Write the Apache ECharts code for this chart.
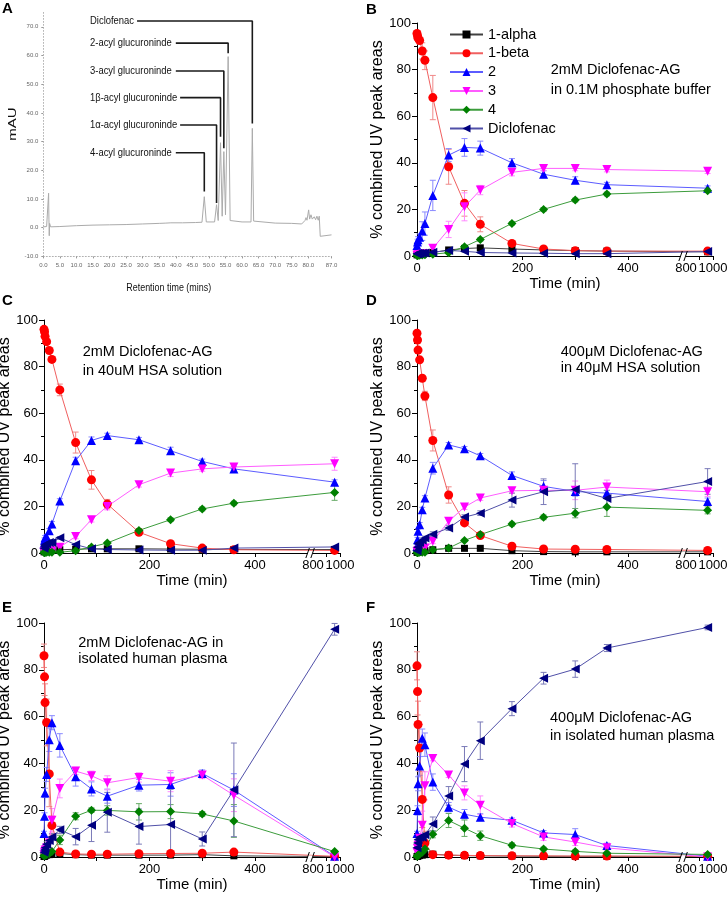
<!DOCTYPE html>
<html><head><meta charset="utf-8">
<script src="https://cdn.jsdelivr.net/npm/echarts@6.0.0/dist/echarts.min.js"></script>
<style>html,body{margin:0;padding:0;background:#fff;}#chart{width:728px;height:899px;}</style>
</head><body><div id="chart"></div>
<script>
const FONT = "'Liberation Sans', Arial, Helvetica, sans-serif";

// ---------- Panel A : chromatogram ----------
const chromTime = [0,1.0,1.5,1.6,1.7,1.8,1.9,2.2,5,10,15,20,25,30,35,37,37.5,38.5,42,46,47.9,48.6,49.2,51.7,52.3,52.8,53.5,54.0,54.5,55.0,55.8,56.4,60,62.7,63.1,63.5,64,70,75,78,78.5,79,79.3,79.6,80.1,80.4,80.8,81.2,81.8,82.2,82.6,83.0,83.3,83.6,84,87];
const chromMAU  = [0.3,0.4,0.4,12.0,3.0,-2.8,1.5,0.3,0.4,0.7,0.9,1.0,1.1,1.3,1.5,1.6,2.0,1.7,1.7,1.8,1.9,10.8,2.0,2.0,8.0,2.5,29.6,4.0,26.5,4.5,59.6,2.5,2.0,2.0,34.6,2.3,1.8,1.6,1.5,1.3,0.8,2.5,3.5,2.6,6.2,3.0,4.5,3.0,3.8,2.8,4.0,2.6,4.0,-3.0,-3.0,-2.5];
const peakNames = ['Diclofenac','2-acyl glucuroninde','3-acyl glucuroninde','1β-acyl glucuroninde','1α-acyl glucuroninde','4-acyl glucuroninde'];
const peakRT = [63.1,55.8,54.5,53.5,52.3,48.6];
const peakLineEnd = [36.3,60.8,27.7,31.7,8.6,12.6];
const peakLabelLevel = [72.0,64.3,54.6,45.3,35.8,26.1];
const peakLineStart = [28.3,40.0,40.0,41.3,41.3,40.0];
const chromXTicks = [0,5,10,15,20,25,30,35,40,45,50,55,60,65,70,75,80,87];
const chromYTicks = [-10,0,10,20,30,40,50,60,70];

// ---------- Panels B-F : time courses ----------
const TIMES = [0,1,2,5,10,15,30,60,90,120,180,240,300,360,960];
const SERIES_NAMES = ['1-alpha','1-beta','2','3','4','Diclofenac'];
const timeTickLabels = [0,200,400,800,1000];
const timeTicks = [0,100,200,300,400,900,1000];

// B: 2mM in phosphate buffer
const bAlpha = [0.5,0.6,0.8,1.0,1.1,1.2,1.5,2.6,3.2,3.5,3.0,2.6,2.3,2.1,1.8];
const bAlphaErr = [0.2,0.2,0.2,0.2,0.3,0.3,0.3,0.4,0.4,0.4,0.4,0.3,0.3,0.3,0.3];
const bBeta = [95.5,94.5,93.5,92.5,88,84,68,38.3,22.6,13.6,5.4,3,2.3,2.1,2.1];
const bBetaErr = [0.8,1,1.2,1.5,3.5,4,9.5,7.5,5.5,3.2,1,0.6,0.5,0.5,0.5];
const bTwo = [4.5,6,7,8,10.7,13.9,26,43.3,46.6,46.3,40,35.1,32.5,30.6,29.1];
const bTwoErr = [1,1.2,1.3,1.5,4,5,6.5,2.8,3.8,3,1.8,1.5,1.5,1,1];
const bThree = [0.3,0.4,0.5,0.6,0.8,1,3.3,11.4,21.1,28.3,35.9,37.6,37.6,37.1,36.4];
const bThreeErr = [0.2,0.2,0.2,0.3,0.3,0.4,1,3.5,6,2,1.5,1,1,1,1];
const bFour = [0.2,0.2,0.3,0.3,0.4,0.5,0.8,1.4,4,7.1,14,20,24,26.6,28];
const bFourErr = [0.1,0.1,0.1,0.1,0.2,0.2,0.3,0.5,0.7,0.7,0.7,0.8,0.8,0.8,0.8];
const bDic = [1,1,1.1,1.1,1.2,1.3,1.6,2.4,2,1.5,1.3,1.2,1,1,1.9];
const bDicErr = [0.3,0.3,0.3,0.3,0.3,0.3,0.3,0.3,0.3,0.3,0.3,0.3,0.3,0.3,0.3];

// C: 2mM in 40uM HSA
const cAlpha = [0.5,0.6,0.8,1,1.1,1.2,1.4,1.6,1.8,1.8,1.8,1.7,1.6,1.5,1.5];
const cAlphaErr = [0.2,0.2,0.2,0.2,0.2,0.2,0.3,0.3,0.3,0.3,0.3,0.3,0.3,0.3,0.3];
const cBeta = [96,95,93,90.7,86.9,83.1,70,47.4,31.4,21,8.9,4,2.1,1.4,1.1];
const cBetaErr = [0.8,1,1,1,1,1,2.5,4.5,4,2,1,0.6,0.5,0.4,0.4];
const cTwo = [4,5.5,6.5,7,9.5,12.5,22.3,39.6,48.3,50.4,48.6,43.9,39.3,36.1,30.4];
const cTwoErr = [1,1,1,1,1,1,1,1.5,1.5,1,1,1.5,1,1,1];
const cThree = [0.3,0.4,0.5,0.6,0.8,1,2.5,7.1,14.3,20,29.3,34.3,36.1,36.9,38.3];
const cThreeErr = [0.2,0.2,0.2,0.2,0.3,0.3,0.5,1,1,1.5,1,1.5,1,1,2.8];
const cFour = [0.2,0.2,0.2,0.3,0.3,0.3,0.3,1,2.6,4.3,9.7,14.3,18.9,21.4,26];
const cFourErr = [0.1,0.1,0.1,0.1,0.1,0.1,0.2,0.3,0.5,0.5,0.8,0.8,0.8,0.8,3.4];
const cDic = [2,3,3.5,4,4.5,4.5,6.5,3.6,1.8,1.5,1.3,1.2,1.2,2.1,2.6];
const cDicErr = [0.3,0.4,0.4,0.4,0.5,0.5,0.5,0.5,0.3,0.3,0.3,0.3,0.3,0.3,0.3];

// D: 400uM in 40uM HSA
const dAlpha = [0.3,0.4,0.5,0.6,0.8,1,1.4,2,2,2,1,0.6,0.5,0.5,0.5];
const dAlphaErr = [0.2,0.2,0.2,0.2,0.2,0.2,0.3,0.3,0.3,0.3,0.3,0.2,0.2,0.2,0.2];
const dBeta = [94.3,91.4,87.1,82.9,75,67.4,48.3,24.9,12.9,7.5,2.9,1.7,1.6,1.5,1.1];
const dBetaErr = [0.8,1,1,1,1.2,2,4.5,3.5,1,1,0.6,0.5,0.5,0.5,0.4];
const dTwo = [2.9,5.7,9.3,12.1,18.6,23.6,36.4,46.4,44.7,41.7,33.3,28.6,26.4,25.7,22.1];
const dTwoErr = [0.8,1,1,1,1,1,2.5,1,1,1,1.5,2.5,2,1.2,1.5];
const dThree = [0.5,0.8,1,1.2,1.5,2.1,5,13.6,19.7,23.6,26.7,26.9,26.9,28.3,26.3];
const dThreeErr = [0.3,0.3,0.3,0.3,0.4,0.5,1,1.5,1,1,1,1,4,3,2];
const dFour = [0.2,0.2,0.2,0.3,0.3,0.3,1.4,2.1,5.4,7.9,12.4,15.3,17.1,19.7,18.3];
const dFourErr = [0.1,0.1,0.1,0.1,0.1,0.1,0.3,0.5,0.5,0.8,0.8,1,2,4,1.5];
const dDic = [1,2.5,4,4.5,5.5,6.4,8.1,10.7,15.4,17.1,22.7,26.3,27.3,23.4,30.7];
const dDicErr = [0.3,0.5,0.5,0.5,0.8,0.8,1,1,1,1,3,5.5,11,3.5,5.5];

// E: 2mM in human plasma
const eAlpha = [0.2,0.3,0.5,0.8,1,1.2,1.5,1,0.8,0.8,0.8,0.8,1,0.5,0.2];
const eAlphaErr = [0.2,0.2,0.2,0.2,0.2,0.2,0.3,0.3,0.3,0.3,0.3,0.3,0.3,0.3,0.2];
const eBeta = [86,77,66,57.5,35.5,13.5,2.1,1.3,1.2,1.2,1.4,1.5,1.6,2.1,0.3];
const eBetaErr = [5,8,8,10,14,4,0.5,0.4,0.4,0.4,0.4,0.4,0.4,0.5,0.2];
const eTwo = [10,17.4,27.4,35.3,50.1,57.4,47.7,34.3,29.1,26,30.7,31,35.7,28.6,0.3];
const eTwoErr = [1,1.5,2,3,5,3,5,4,3,3,2.5,5,1.5,7,0.2];
const eThree = [1,2,3,4,6,15.7,29.3,36.7,34.7,31.7,34,32.4,35,26.4,0];
const eThreeErr = [0.5,0.8,1,1,2,5,4,1.5,2,3,2,4.5,1.5,7,0.2];
const eFour = [0.5,0.6,0.8,1,1.5,2.3,7.3,17.4,20,19.9,19.3,19.4,18.4,15.4,2.3];
const eFourErr = [0.2,0.2,0.3,0.3,0.5,0.5,2,1.5,1,2,3.5,3,1,7,0.5];
const eDic = [2,3,4,5.5,7,8.5,11.6,8.7,13.6,19.1,13,13.9,7.7,28.7,97.3];
const eDicErr = [0.5,0.8,1,1,1.5,1.5,1.5,3.5,7,8.5,7.5,15,3,20,2.5];

// F: 400uM in human plasma
const fAlpha = [0.2,0.3,0.4,0.6,0.8,1,1.2,0.8,0.6,0.5,0.4,0.3,0.3,0.3,0.2];
const fAlphaErr = [0.2,0.2,0.2,0.2,0.2,0.2,0.3,0.3,0.2,0.2,0.2,0.2,0.2,0.2,0.2];
const fBeta = [81.7,70.7,56.6,46.6,24.6,6,1,0.8,0.7,0.6,0.5,0.5,0.4,0.4,0.3];
const fBetaErr = [6,10,10,10,12,5,0.4,0.3,0.3,0.3,0.3,0.3,0.3,0.3,0.2];
const fTwo = [10,19.9,31.3,38.9,50.7,48,32,21.3,18.3,17,15.7,10.3,9.6,4.9,0.3];
const fTwoErr = [1,2,3,4,4,5,3.5,2,2,1.5,1,1,2.5,1,0.2];
const fThree = [2,3.6,5,8,13.6,30.4,42.1,35,27.4,22.1,14.3,8.6,6.4,3.9,0];
const fThreeErr = [1,1,1.5,2,6,6,1,1,3,4,1.5,1.5,1.5,1,0.2];
const fFour = [0.3,0.5,0.8,1.3,2,3.4,9.7,15.6,12.3,9.1,5,3.4,2.4,1.6,1.1];
const fFourErr = [0.2,0.2,0.3,0.3,0.5,1,1.5,3,3.5,2,1,0.8,0.6,0.5,0.5];
const fDic = [4,6,7.5,8.4,8.4,9.5,14.1,26.1,39.7,49.7,63.4,76.4,80.3,89.3,98.1];
const fDicErr = [0.5,1,1,1,1,1,3,4,7.5,8,3,2.5,3.5,1.5,1];

// ---------- broken time axis (0-500 | 800-1000 compressed) ----------
const BREAK_START = 500, BREAK_END = 800, BREAK_GAP = 10, POST_SCALE = 0.256;
function bx(t) { return t <= BREAK_START ? t : BREAK_START + BREAK_GAP + (t - BREAK_END) * POST_SCALE; }

const STYLES = [
  {symbol:'rect', size:7, rotate:0, color:'#000000', line:'#404040', err:'#707070'},
  {symbol:'circle', size:9, rotate:0, color:'#ff0000', line:'#f06060', err:'#f08a8a'},
  {symbol:'triangle', size:9, rotate:0, color:'#0000ff', line:'#5c5cff', err:'#8a8aff'},
  {symbol:'triangle', size:9, rotate:180, color:'#ff00ff', line:'#ff5cff', err:'#ff8aff'},
  {symbol:'diamond', size:9, rotate:0, color:'#008000', line:'#3c9c3c', err:'#66aa66'},
  {symbol:'triangle', size:9, rotate:90, color:'#000080', line:'#5050a8', err:'#7a7ab8'}
];

const PANELS = [
  {grid:1, values:[bAlpha,bBeta,bTwo,bThree,bFour,bDic], errors:[bAlphaErr,bBetaErr,bTwoErr,bThreeErr,bFourErr,bDicErr]},
  {grid:2, values:[cAlpha,cBeta,cTwo,cThree,cFour,cDic], errors:[cAlphaErr,cBetaErr,cTwoErr,cThreeErr,cFourErr,cDicErr]},
  {grid:3, values:[dAlpha,dBeta,dTwo,dThree,dFour,dDic], errors:[dAlphaErr,dBetaErr,dTwoErr,dThreeErr,dFourErr,dDicErr]},
  {grid:4, values:[eAlpha,eBeta,eTwo,eThree,eFour,eDic], errors:[eAlphaErr,eBetaErr,eTwoErr,eThreeErr,eFourErr,eDicErr]},
  {grid:5, values:[fAlpha,fBeta,fTwo,fThree,fFour,fDic], errors:[fAlphaErr,fBetaErr,fTwoErr,fThreeErr,fFourErr,fDicErr]}
];

const GRIDS = [
  {left:43.3, top:12.4, width:288.2, height:244},
  {left:417, top:23, width:296, height:233},
  {left:44, top:320, width:296, height:233},
  {left:417, top:320, width:296, height:233},
  {left:44, top:623, width:296, height:234},
  {left:417, top:623, width:296, height:234}
];

const NOTES = [
  {lines:['2mM Diclofenac-AG','in 0.1M phosphate buffer'], x:550.7, y:70, lh:19.5},
  {lines:['2mM Diclofenac-AG','in 40uM HSA solution'], x:82.7, y:351.7, lh:19.3},
  {lines:['400μM Diclofenac-AG','in 40μM HSA solution'], x:560.7, y:351.5, lh:16.8},
  {lines:['2mM Diclofenac-AG in','isolated human plasma'], x:78.3, y:643.3, lh:16},
  {lines:['400μM Diclofenac-AG','in isolated human plasma'], x:550, y:718.3, lh:17.3}
];
const LETTERS = [['A',2,9],['B',366,9.5],['C',2,301],['D',366,301],['E',2,607.5],['F',366,607.5]];

function errorSeries(gi, vals, errs, color) {
  return {
    type:'custom', xAxisIndex:gi, yAxisIndex:gi, z:2, silent:true,
    data: TIMES.map((t,i)=>[bx(t), vals[i], errs[i]]),
    encode:{x:0, y:1},
    renderItem: function(params, api) {
      const x = api.value(0), y = api.value(1), e = api.value(2);
      const hi = api.coord([x, y + e]);
      const lo = api.coord([x, Math.max(0, y - e)]);
      const cw = 3;
      return {type:'group', children:[
        {type:'line', shape:{x1:hi[0], y1:hi[1], x2:lo[0], y2:lo[1]}, style:{stroke:color, lineWidth:1}},
        {type:'line', shape:{x1:hi[0]-cw, y1:hi[1], x2:hi[0]+cw, y2:hi[1]}, style:{stroke:color, lineWidth:1}},
        {type:'line', shape:{x1:lo[0]-cw, y1:lo[1], x2:lo[0]+cw, y2:lo[1]}, style:{stroke:color, lineWidth:1}}
      ]};
    }
  };
}

const series = [];
PANELS.forEach(p => {
  p.values.forEach((vals, k) => {
    series.push(errorSeries(p.grid, vals, p.errors[k], STYLES[k].err));
  });
  p.values.forEach((vals, k) => {
    const s = STYLES[k];
    series.push({
      type:'line', name:SERIES_NAMES[k], xAxisIndex:p.grid, yAxisIndex:p.grid, z:3,
      data: TIMES.map((t,i)=>[bx(t), vals[i]]),
      symbol:s.symbol, symbolSize:s.size, symbolRotate:s.rotate, showSymbol:true,
      lineStyle:{color:s.line, width:1}, itemStyle:{color:s.color, borderWidth:0},
      emphasis:{disabled:true}, silent:true
    });
  });
});
series.push({
  type:'line', name:'chromatogram', xAxisIndex:0, yAxisIndex:0, z:2,
  data: chromTime.map((t,i)=>[t, chromMAU[i]]), showSymbol:false, symbol:'none',
  lineStyle:{color:'#ababab', width:1}, silent:true
});
peakNames.forEach((n, i) => {
  series.push({
    type:'line', name:'peak-' + i, xAxisIndex:0, yAxisIndex:0, z:3, symbol:'none',
    data:[[peakLineStart[i], peakLabelLevel[i]], [peakRT[i], peakLabelLevel[i]], [peakRT[i], peakLineEnd[i]]],
    lineStyle:{color:'#1a1a1a', width:1.6}, silent:true
  });
});

function timeLabel(v) {
  for (const t of timeTickLabels) if (Math.abs(bx(t) - v) < 1e-6) return String(t);
  return '';
}

const xAxes = [{
  gridIndex:0, type:'value', min:0, max:87,
  axisLine:{show:true, onZero:false, lineStyle:{color:'#b0b0b0', width:1, type:[1,2]}},
  axisTick:{show:true, customValues:chromXTicks, length:2, lineStyle:{color:'#999'}},
  axisLabel:{customValues:chromXTicks, formatter:v=>v.toFixed(1), fontSize:6, color:'#666', margin:6, fontFamily:FONT},
  splitLine:{show:false}
}];
const yAxes = [{
  gridIndex:0, type:'value', min:-10, max:75,
  axisLine:{show:true, onZero:false, lineStyle:{color:'#b8b8b8', width:1, type:[1,2]}},
  axisTick:{show:true, customValues:chromYTicks, length:2, lineStyle:{color:'#999'}},
  axisLabel:{customValues:chromYTicks, formatter:v=>v.toFixed(1), fontSize:6, color:'#666', margin:5, fontFamily:FONT},
  splitLine:{show:false}
}];
for (let gi = 1; gi <= 5; gi++) {
  xAxes.push({
    gridIndex:gi, type:'value', min:0, max:bx(1000),
    name:'Time (min)', nameLocation:'middle', nameGap:15,
    nameTextStyle:{fontSize:15, color:'#000', fontFamily:FONT, verticalAlign:'top'},
    axisLine:{show:true, onZero:false, lineStyle:{color:'#000', width:1}},
    axisTick:{show:true, customValues:timeTicks.map(bx), length:4, lineStyle:{color:'#000', width:1}},
    axisLabel:{customValues:timeTickLabels.map(bx), formatter:timeLabel, fontSize:13, color:'#000', margin:6, fontFamily:FONT},
    splitLine:{show:false}
  });
  yAxes.push({
    gridIndex:gi, type:'value', min:0, max:100, interval:20,
    name:'% combined UV peak areas', nameLocation:'middle', nameGap:28, nameRotate:90,
    nameTextStyle:{fontSize:16, color:'#000', fontFamily:FONT},
    axisLine:{show:true, onZero:false, lineStyle:{color:'#000', width:1}},
    axisTick:{show:true, length:5, lineStyle:{color:'#000', width:1}},
    minorTick:{show:true, splitNumber:2, length:3, lineStyle:{color:'#000', width:1}},
    splitLine:{show:false}, minorSplitLine:{show:false},
    axisLabel:{fontSize:13, color:'#000', margin:6, fontFamily:FONT}
  });
}

const chart = echarts.init(document.getElementById('chart'), null, {renderer:'canvas'});
chart.setOption({
  animation:false,
  backgroundColor:'#ffffff',
  textStyle:{fontFamily:FONT},
  grid: GRIDS.map(g => Object.assign({containLabel:false, outerBoundsMode:'none'}, g)),
  xAxis: xAxes,
  yAxis: yAxes,
  legend: {
    show:true, data:SERIES_NAMES, orient:'vertical', left:449, top:27, padding:0,
    itemWidth:33, itemHeight:10, itemGap:3.8, selectedMode:false,
    textStyle:{fontSize:14.5, color:'#000', fontFamily:FONT, lineHeight:14}
  },
  series: series
});

const graphics = [];
LETTERS.forEach(([t, x, y]) => graphics.push({
  type:'text', x:x, y:y, z:100,
  style:{text:t, fontSize:15, fontWeight:'bold', fontFamily:FONT, fill:'#000', verticalAlign:'middle', textVerticalAlign:'middle'}
}));
NOTES.forEach(n => n.lines.forEach((line, j) => graphics.push({
  type:'text', x:n.x, y:n.y + j * n.lh, z:100,
  style:{text:line, fontSize:14.5, fontFamily:FONT, fill:'#000', verticalAlign:'middle', textVerticalAlign:'middle'}
})));
for (let gi = 1; gi <= 5; gi++) {
  const p = chart.convertToPixel({gridIndex:gi}, [BREAK_START + BREAK_GAP / 2, 0]);
  graphics.push({type:'rect', z:100, shape:{x:p[0]-2.5, y:p[1]-1.5, width:5, height:3}, style:{fill:'#fff'}});
  graphics.push({type:'line', z:101, shape:{x1:p[0]-4.5, y1:p[1]+5, x2:p[0]-1, y2:p[1]-5}, style:{stroke:'#000', lineWidth:1}});
  graphics.push({type:'line', z:101, shape:{x1:p[0]+0.5, y1:p[1]+5, x2:p[0]+4, y2:p[1]-5}, style:{stroke:'#000', lineWidth:1}});
}
const PEAK_LABEL_RT = 14.1;
peakNames.forEach((n, i) => {
  const p = chart.convertToPixel({gridIndex:0}, [PEAK_LABEL_RT, peakLabelLevel[i]]);
  graphics.push({type:'text', x:p[0], y:p[1], scaleX:0.82, z:100,
    style:{text:n, fontSize:11.5, fontFamily:FONT, fill:'#111', verticalAlign:'middle', textVerticalAlign:'middle'}});
});
graphics.push({type:'text', x:168.7, y:288, scaleX:0.85, z:100,
  style:{text:'Retention time (mins)', fontSize:10.5, fontFamily:FONT, fill:'#111', align:'center', textAlign:'center', verticalAlign:'middle', textVerticalAlign:'middle'}});
graphics.push({type:'text', x:13.5, y:124, rotation:Math.PI/2, scaleX:1.5, z:100,
  style:{text:'mAU', fontSize:10, fontFamily:FONT, fill:'#111', align:'center', textAlign:'center', verticalAlign:'middle', textVerticalAlign:'middle'}});

chart.setOption({graphic: graphics});
</script></body></html>
